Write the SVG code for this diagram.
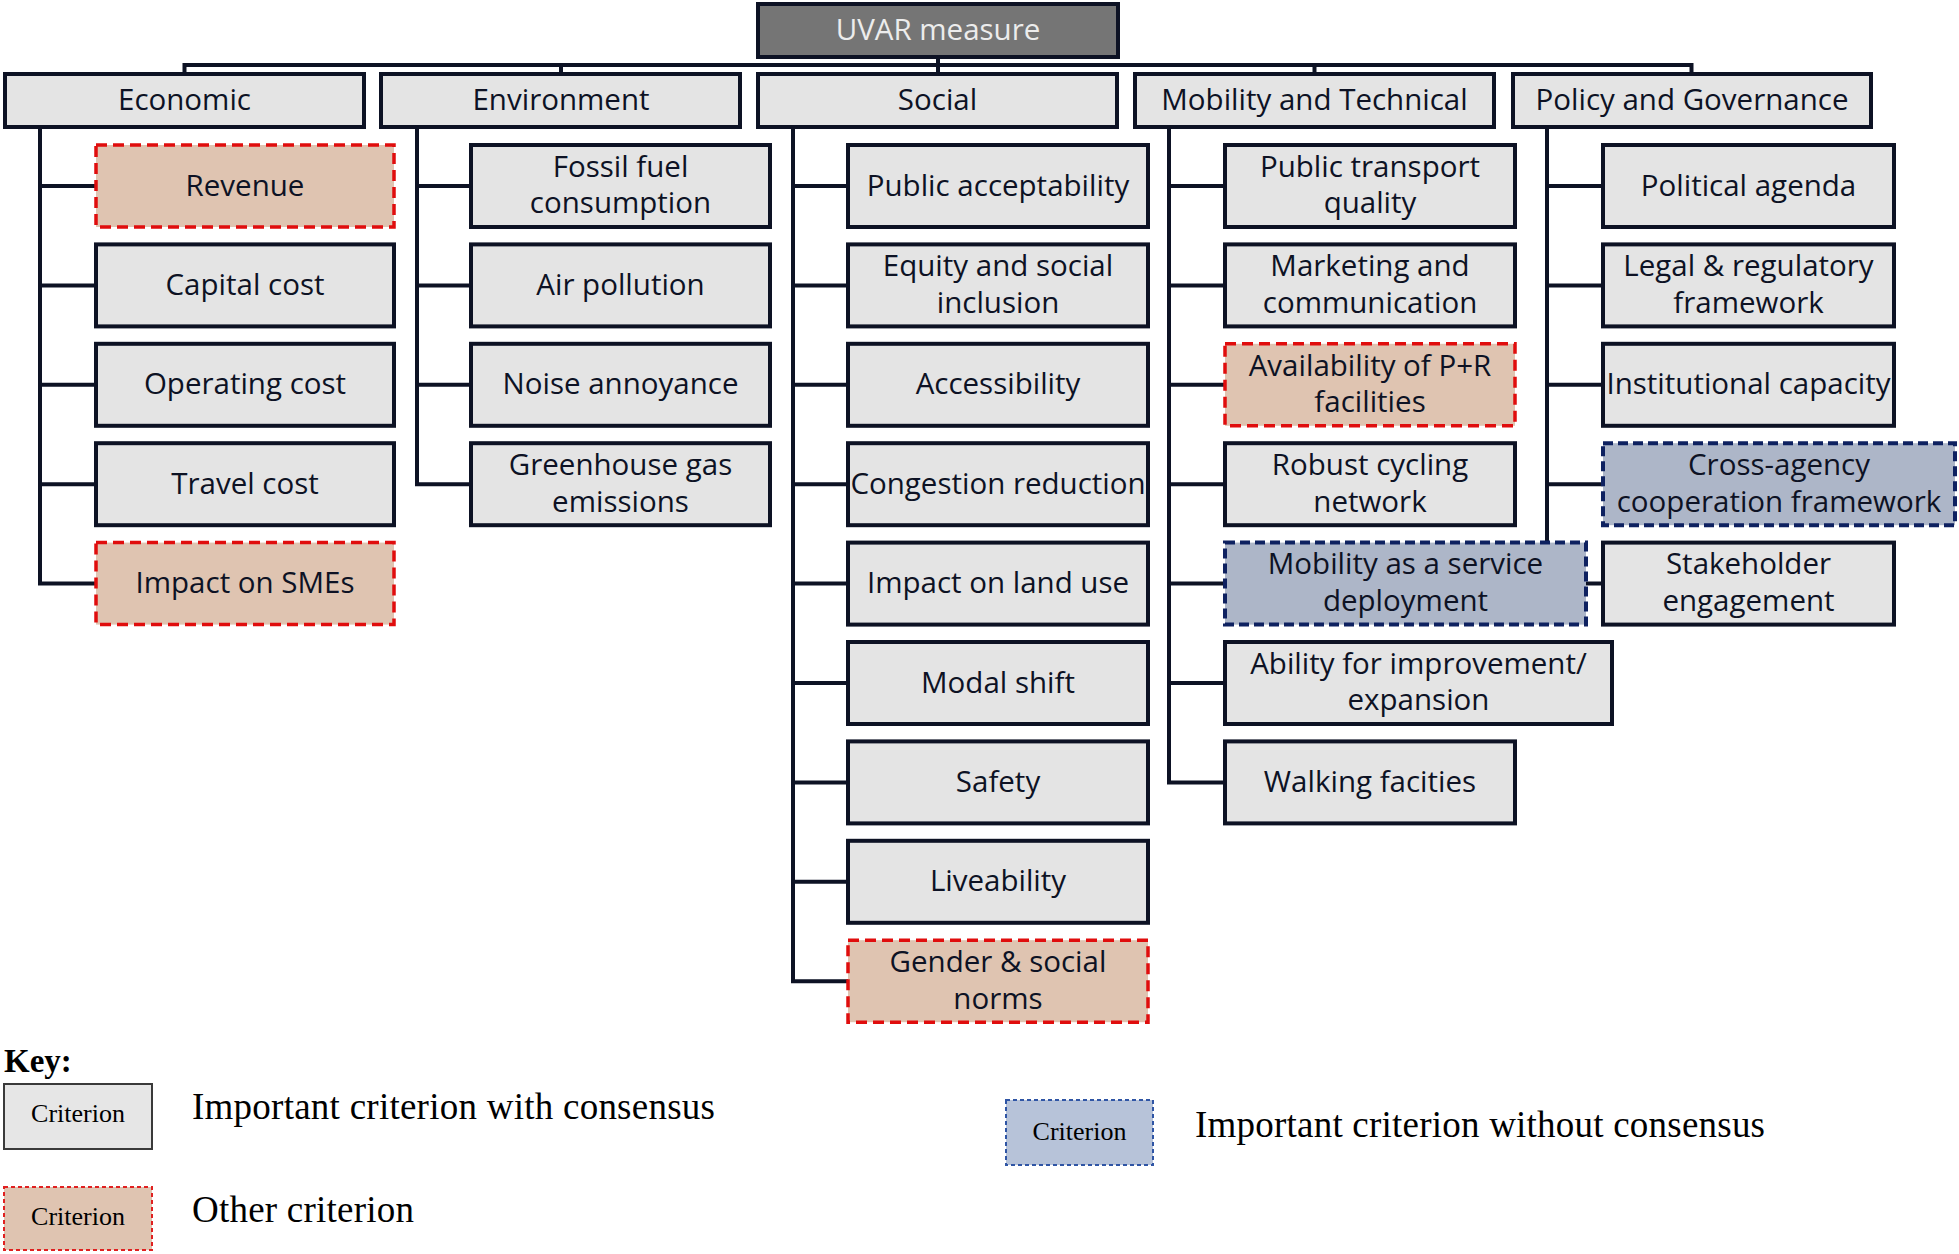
<svg xmlns="http://www.w3.org/2000/svg" width="1959" height="1254" viewBox="0 0 1959 1254">
<style>
.bg{fill:#ffffff}
.n{fill:#e4e4e4;stroke:#0d1224;stroke-width:4}
.r{fill:#dfc4b1;stroke:#e00d0d;stroke-width:3.5;stroke-dasharray:11 6}
.b{fill:#adb6c8;stroke:#0e2160;stroke-width:4;stroke-dasharray:10 5}
.root{fill:#757575;stroke:#0d1224;stroke-width:4}
.t{font-family:"Open Sans","Noto Sans",sans-serif;font-size:29.5px;fill:#0d1224;text-anchor:middle}
.rt{font-family:"Open Sans","Noto Sans",sans-serif;font-size:29.5px;fill:#ececec;text-anchor:middle}
.c{fill:none;stroke:#0d1224;stroke-width:4}
.lg{font-family:"Liberation Serif","Times New Roman",serif;fill:#000000}
</style>
<rect class="bg" x="0" y="0" width="1959" height="1254"/>

<g id="connectors">
  <path class="c" d="M184.5,65 H1691.5 M938,59 V74 M184.5,63 V74 M561,63 V74 M1314.5,63 V74 M1691.5,63 V74"/>
  <!-- Economic -->
  <path class="c" d="M40,129 V583.6 M40,186 H96 M40,285.4 H96 M40,384.8 H96 M40,484.2 H96 M38,583.6 H96"/>
  <!-- Environment -->
  <path class="c" d="M417,129 V484.2 M417,186 H471 M417,285.4 H471 M417,384.8 H471 M415,484.2 H471"/>
  <!-- Social -->
  <path class="c" d="M793,129 V981.2 M793,186 H848 M793,285.4 H848 M793,384.8 H848 M793,484.2 H848 M793,583.6 H848 M793,683 H848 M793,782.4 H848 M793,881.8 H848 M791,981.2 H848"/>
  <!-- Mobility -->
  <path class="c" d="M1169,129 V782.4 M1169,186 H1225 M1169,285.4 H1225 M1169,384.8 H1225 M1169,484.2 H1225 M1169,583.6 H1225 M1169,683 H1225 M1167,782.4 H1225"/>
  <!-- Policy -->
  <path class="c" d="M1547,129 V583.6 M1547,186 H1603 M1547,285.4 H1603 M1547,384.8 H1603 M1547,484.2 H1603 M1545,583.6 H1603"/>
</g>

<g id="root"><rect class="root" x="758" y="4" width="360" height="53"/><text class="rt" x="938" y="39.5">UVAR measure</text></g>

<g id="cat-economic"><rect class="n" x="5" y="74" width="359" height="53"/><text class="t" x="184.5" y="110">Economic</text></g>
<g id="cat-environment"><rect class="n" x="381" y="74" width="359" height="53"/><text class="t" x="561" y="110">Environment</text></g>
<g id="cat-social"><rect class="n" x="758" y="74" width="359" height="53"/><text class="t" x="937.5" y="110">Social</text></g>
<g id="cat-mobility"><rect class="n" x="1135" y="74" width="359" height="53"/><text class="t" x="1314.5" y="110">Mobility and Technical</text></g>
<g id="cat-policy"><rect class="n" x="1513" y="74" width="358" height="53"/><text class="t" x="1692" y="110">Policy and Governance</text></g>

<!-- Economic children -->
<g id="revenue"><rect class="r" x="96" y="145" width="298" height="82"/><text class="t" x="245" y="195.5">Revenue</text></g>
<g id="capital-cost"><rect class="n" x="96" y="244.4" width="298" height="82"/><text class="t" x="245" y="294.9">Capital cost</text></g>
<g id="operating-cost"><rect class="n" x="96" y="343.8" width="298" height="82"/><text class="t" x="245" y="394.3">Operating cost</text></g>
<g id="travel-cost"><rect class="n" x="96" y="443.2" width="298" height="82"/><text class="t" x="245" y="493.7">Travel cost</text></g>
<g id="impact-smes"><rect class="r" x="96" y="542.6" width="298" height="82"/><text class="t" x="245" y="593.1">Impact on SMEs</text></g>

<!-- Environment children -->
<g id="fossil-fuel"><rect class="n" x="471" y="145" width="299" height="82"/><text class="t" x="620.5" y="176.7">Fossil fuel<tspan x="620.5" y="213.3">consumption</tspan></text></g>
<g id="air-pollution"><rect class="n" x="471" y="244.4" width="299" height="82"/><text class="t" x="620.5" y="294.9">Air pollution</text></g>
<g id="noise"><rect class="n" x="471" y="343.8" width="299" height="82"/><text class="t" x="620.5" y="394.3">Noise annoyance</text></g>
<g id="ghg"><rect class="n" x="471" y="443.2" width="299" height="82"/><text class="t" x="620.5" y="474.9">Greenhouse gas<tspan x="620.5" y="511.5">emissions</tspan></text></g>

<!-- Social children -->
<g id="public-acceptability"><rect class="n" x="848" y="145" width="300" height="82"/><text class="t" x="998" y="195.5">Public acceptability</text></g>
<g id="equity"><rect class="n" x="848" y="244.4" width="300" height="82"/><text class="t" x="998" y="276.1">Equity and social<tspan x="998" y="312.7">inclusion</tspan></text></g>
<g id="accessibility"><rect class="n" x="848" y="343.8" width="300" height="82"/><text class="t" x="998" y="394.3">Accessibility</text></g>
<g id="congestion"><rect class="n" x="848" y="443.2" width="300" height="82"/><text class="t" x="998" y="493.7">Congestion reduction</text></g>
<g id="land-use"><rect class="n" x="848" y="542.6" width="300" height="82"/><text class="t" x="998" y="593.1">Impact on land use</text></g>
<g id="modal-shift"><rect class="n" x="848" y="642" width="300" height="82"/><text class="t" x="998" y="692.5">Modal shift</text></g>
<g id="safety"><rect class="n" x="848" y="741.4" width="300" height="82"/><text class="t" x="998" y="791.9">Safety</text></g>
<g id="liveability"><rect class="n" x="848" y="840.8" width="300" height="82"/><text class="t" x="998" y="891.3">Liveability</text></g>
<g id="gender"><rect class="r" x="848" y="940.2" width="300" height="82"/><text class="t" x="998" y="971.9">Gender &amp; social<tspan x="998" y="1008.5">norms</tspan></text></g>

<!-- Mobility children -->
<g id="pt-quality"><rect class="n" x="1225" y="145" width="290" height="82"/><text class="t" x="1370" y="176.7">Public transport<tspan x="1370" y="213.3">quality</tspan></text></g>
<g id="marketing"><rect class="n" x="1225" y="244.4" width="290" height="82"/><text class="t" x="1370" y="276.1">Marketing and<tspan x="1370" y="312.7">communication</tspan></text></g>
<g id="pr-facilities"><rect class="r" x="1225" y="343.8" width="290" height="82"/><text class="t" x="1370" y="375.5">Availability of P+R<tspan x="1370" y="412.1">facilities</tspan></text></g>
<g id="cycling"><rect class="n" x="1225" y="443.2" width="290" height="82"/><text class="t" x="1370" y="474.9">Robust cycling<tspan x="1370" y="511.5">network</tspan></text></g>

<!-- Policy children -->
<g id="political-agenda"><rect class="n" x="1603" y="145" width="291" height="82"/><text class="t" x="1748.5" y="195.5">Political agenda</text></g>
<g id="legal"><rect class="n" x="1603" y="244.4" width="291" height="82"/><text class="t" x="1748.5" y="276.1">Legal &amp; regulatory<tspan x="1748.5" y="312.7">framework</tspan></text></g>
<g id="institutional"><rect class="n" x="1603" y="343.8" width="291" height="82"/><text class="t" x="1748.5" y="394.3">Institutional capacity</text></g>
<g id="cross-agency"><rect class="b" x="1603" y="443.2" width="352" height="82"/><text class="t" x="1779" y="474.9">Cross-agency<tspan x="1779" y="511.5">cooperation framework</tspan></text></g>
<g id="stakeholder"><rect class="n" x="1603" y="542.6" width="291" height="82"/><text class="t" x="1748.5" y="574.3">Stakeholder<tspan x="1748.5" y="610.9">engagement</tspan></text></g>

<g id="maas"><rect class="b" x="1225" y="542.6" width="361" height="82"/><text class="t" x="1405.5" y="574.3">Mobility as a service<tspan x="1405.5" y="610.9">deployment</tspan></text></g>
<g id="improvement"><rect class="n" x="1225" y="642" width="387" height="82"/><text class="t" x="1418.5" y="673.7">Ability for improvement/<tspan x="1418.5" y="710.3">expansion</tspan></text></g>
<g id="walking"><rect class="n" x="1225" y="741.4" width="290" height="82"/><text class="t" x="1370" y="791.9">Walking facities</text></g>

<!-- Legend -->
<g id="legend">
  <text class="lg" x="4" y="1072" font-size="33" font-weight="bold">Key:</text>
  <rect x="4" y="1084" width="148" height="65" fill="#e6e6e6" stroke="#3a3a3a" stroke-width="2"/>
  <text class="lg" x="78" y="1122" font-size="26" text-anchor="middle">Criterion</text>
  <text class="lg" x="192" y="1119" font-size="37" textLength="523" lengthAdjust="spacing">Important criterion with consensus</text>
  <rect x="4" y="1187" width="148" height="63" fill="#dfc4b1" stroke="#e02020" stroke-width="2" stroke-dasharray="4 3"/>
  <text class="lg" x="78" y="1225" font-size="26" text-anchor="middle">Criterion</text>
  <text class="lg" x="192" y="1222" font-size="37" textLength="222" lengthAdjust="spacing">Other criterion</text>
  <rect x="1006" y="1100" width="147" height="65" fill="#b7c3d9" stroke="#2f55a5" stroke-width="2" stroke-dasharray="4 3"/>
  <text class="lg" x="1079.5" y="1140" font-size="26" text-anchor="middle">Criterion</text>
  <text class="lg" x="1195" y="1137" font-size="37" textLength="570" lengthAdjust="spacing">Important criterion without consensus</text>
</g>
</svg>
